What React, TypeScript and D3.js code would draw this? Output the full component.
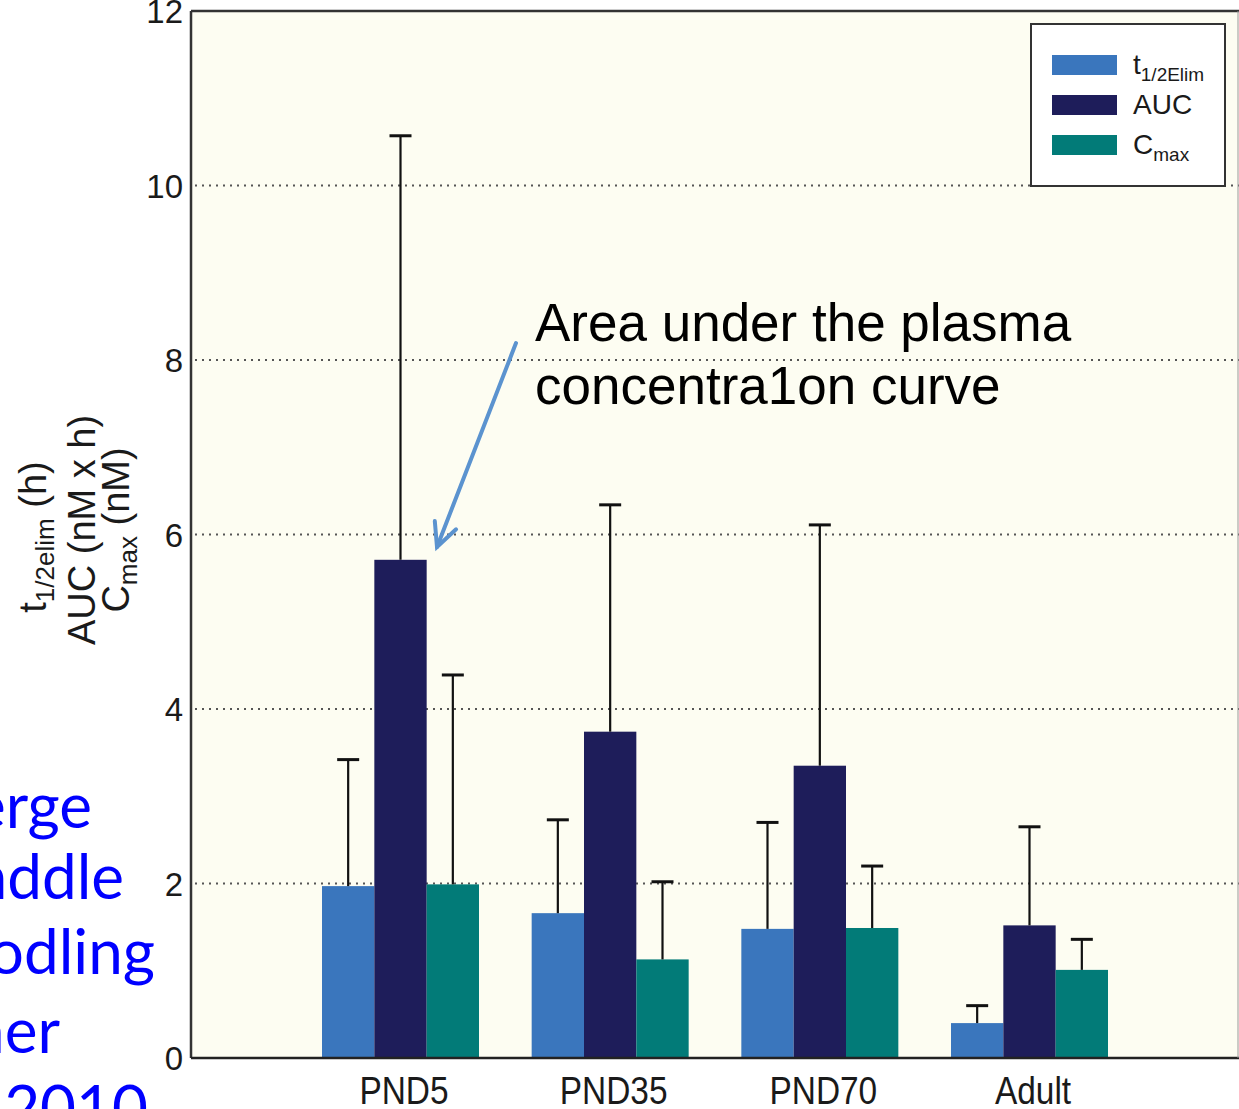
import React from "react";
import * as d3 from "d3";

const categories = ["PND5", "PND35", "PND70", "Adult"];
const seriesKeys = ["t12", "auc", "cmax"];
const seriesLabels = ["t", "AUC", "C"];
const seriesSubs = ["1/2Elim", "", "max"];
const seriesColors = ["#3a76bd", "#1e1d5a", "#027b78"];
const t12Values = [1.97, 1.66, 1.48, 0.4];
const t12Upper = [3.42, 2.73, 2.7, 0.6];
const aucValues = [5.71, 3.74, 3.35, 1.52];
const aucUpper = [10.57, 6.34, 6.11, 2.65];
const cmaxValues = [1.99, 1.13, 1.49, 1.01];
const cmaxUpper = [4.39, 2.02, 2.2, 1.36];
const yTicks = [0, 2, 4, 6, 8, 10, 12];
const gridTicks = [2, 4, 6, 8, 10];
const sideWords = ["erge", "addle", "odling", "her", "e 2010"];

const W = 1239;
const H = 1109;
const left = 191;
const top = 11;
const bottom = 1058;

export default function App() {
  const y = d3.scaleLinear().domain([0, 12]).range([bottom, top]);
  const x0 = d3.scalePoint<string>().domain(categories).range([401, 1030]);
  const x1 = d3.scaleBand<string>().domain(seriesKeys).range([-79, 78]);
  const bw = x1.bandwidth();
  const values = [t12Values, aucValues, cmaxValues];
  const uppers = [t12Upper, aucUpper, cmaxUpper];

  const sideX = [92, 124, 155, 60, 148];
  const sideY = [828, 899, 974, 1053, 1130];

  // arrow
  const ax1 = 516, ay1 = 343, ax2 = 437, ay2 = 547;
  const ang = Math.atan2(ay1 - ay2, ax1 - ax2);
  const headLen = 26;
  const spread = (26 * Math.PI) / 180;
  const h1 = [ax2 + headLen * Math.cos(ang - spread), ay2 + headLen * Math.sin(ang - spread)];
  const h2 = [ax2 + headLen * Math.cos(ang + spread), ay2 + headLen * Math.sin(ang + spread)];

  const font = "'Liberation Sans', Arial, Helvetica, sans-serif";

  return (
    <svg
      width={W}
      height={H}
      style={{ position: "absolute", left: 0, top: 0, background: "#ffffff" }}
      fontFamily={font}
    >
      <rect x={0} y={0} width={W} height={H} fill="#ffffff" />
      <rect x={left} y={top} width={W - left} height={bottom - top} fill="#fdfdf2" />

      {/* grid */}
      {gridTicks.map((t) => (
        <line
          key={t}
          x1={left + 4}
          x2={W}
          y1={y(t)}
          y2={y(t)}
          stroke="#555"
          strokeWidth={2}
          strokeDasharray="2 5"
        />
      ))}

      {/* bars */}
      {categories.map((c, ci) => (
        <g key={c} transform={`translate(${x0(c)},0)`}>
          {seriesKeys.map((k, si) => (
            <rect
              key={k}
              x={x1(k)}
              y={y(values[si][ci])}
              width={bw}
              height={y(0) - y(values[si][ci])}
              fill={seriesColors[si]}
            />
          ))}
          {seriesKeys.map((k, si) => {
            const cx = (x1(k) as number) + bw / 2;
            return (
              <g key={k + "e"} stroke="#111" strokeWidth={2.2}>
                <line x1={cx} x2={cx} y1={y(values[si][ci])} y2={y(uppers[si][ci])} />
                <line x1={cx - 11} x2={cx + 11} y1={y(uppers[si][ci])} y2={y(uppers[si][ci])} strokeWidth={3} />
              </g>
            );
          })}
        </g>
      ))}

      {/* frame */}
      <line x1={left} x2={left} y1={top} y2={bottom} stroke="#333" strokeWidth={2.5} />
      <line x1={left} x2={W} y1={top} y2={top} stroke="#333" strokeWidth={2.5} />
      <line x1={left} x2={W} y1={bottom} y2={bottom} stroke="#222" strokeWidth={2.5} />
      <line x1={W - 1} x2={W - 1} y1={top} y2={bottom} stroke="#999" strokeWidth={1} />

      {/* y ticks */}
      {yTicks.map((t) => (
        <text key={t} x={183} y={y(t) + 12} textAnchor="end" fontSize={33} fill="#1a1a1a">
          {t}
        </text>
      ))}

      {/* x labels */}
      {categories.map((c) => (
        <g key={c} transform={`translate(${(x0(c) as number) + 3},1104) scale(0.88,1)`}>
          <text x={0} y={0} textAnchor="middle" fontSize={38} fill="#1a1a1a">
            {c}
          </text>
        </g>
      ))}

      {/* y axis label */}
      <g transform="translate(46,537) rotate(-90)">
        <text textAnchor="middle" fontSize={38} fill="#1a1a1a">
          t<tspan fontSize={26} dy={8}>1/2elim</tspan>
          <tspan dy={-8}> (h)</tspan>
        </text>
      </g>
      <g transform="translate(95,530) rotate(-90)">
        <text textAnchor="middle" fontSize={38} fill="#1a1a1a">
          AUC (nM x h)
        </text>
      </g>
      <g transform="translate(129,530) rotate(-90)">
        <text textAnchor="middle" fontSize={38} fill="#1a1a1a">
          C<tspan fontSize={26} dy={8}>max</tspan>
          <tspan dy={-8}> (nM)</tspan>
        </text>
      </g>

      {/* legend */}
      <rect x={1031} y={24} width={194} height={162} fill="#ffffff" stroke="#333" strokeWidth={2} />
      {seriesKeys.map((k, si) => (
        <g key={k}>
          <rect x={1052} y={55 + si * 40} width={65} height={20} fill={seriesColors[si]} />
          <text x={1133} y={74 + si * 40} fontSize={28} fill="#1a1a1a">
            {seriesLabels[si]}
            {seriesSubs[si] ? (
              <tspan fontSize={19} dy={7}>
                {seriesSubs[si]}
              </tspan>
            ) : null}
          </text>
        </g>
      ))}

      {/* annotation */}
      <text x={535} y={341} fontSize={53} fill="#000">
        Area under the plasma
      </text>
      <text x={535} y={404} fontSize={53} fill="#000">
        concentra1on curve
      </text>
      <g stroke="#5b93cf" strokeWidth={4} strokeLinecap="round" fill="none">
        <line x1={ax1} y1={ay1} x2={ax2} y2={ay2} />
        <polyline points={`${h1[0]},${h1[1]} ${ax2},${ay2} ${h2[0]},${h2[1]}`} />
      </g>

      {/* side slide text */}
      {sideWords.map((w, i) => (
        <text
          key={w}
          x={sideX[i]}
          y={sideY[i]}
          textAnchor="end"
          fontSize={62}
          fill="#0000ff"
          fontFamily="Lato, 'Open Sans', sans-serif"
        >
          {w}
        </text>
      ))}
    </svg>
  );
}
